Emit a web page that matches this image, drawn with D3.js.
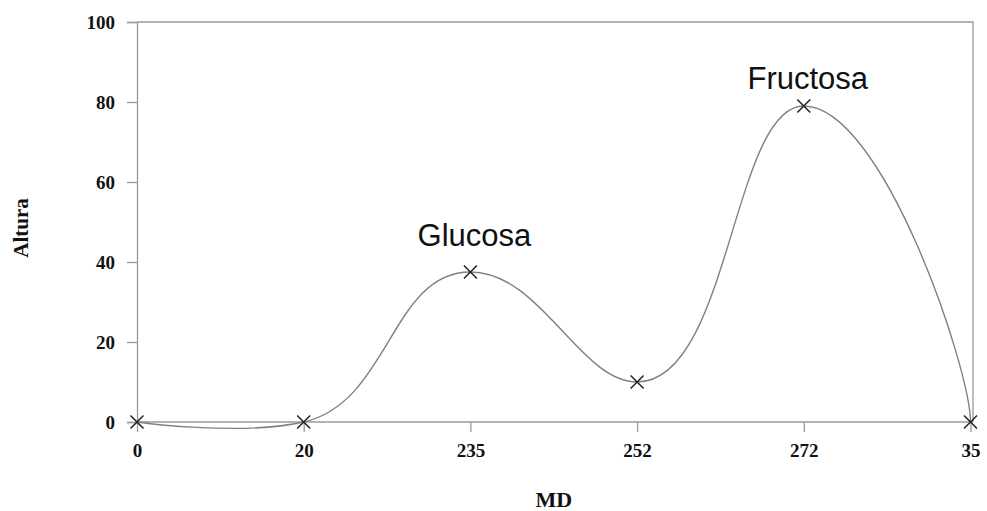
<!DOCTYPE html>
<html>
<head>
<meta charset="utf-8">
<script src="https://cdn.jsdelivr.net/npm/d3@7"></script>
<style>
  html, body { margin: 0; padding: 0; background: #fff; }
  svg { display: block; }
</style>
</head>
<body>
<svg id="chart" width="987" height="511"></svg>
<script>
// Sample fractions (MD) and measured peak heights
const categories = ["0", "20", "235", "252", "272", "35"];
const heights = [0, 0, 37.5, 10, 79, 0];
const yTicks = [0, 20, 40, 60, 80, 100];
const peakLabels = [
  { text: "Glucosa", index: 2, dy: -26 },
  { text: "Fructosa", index: 4, dy: -17 }
];

const svg = d3.select("#chart");
const plotLeft = 137, plotRight = 970.5, plotTop = 22, plotBottom = 422, frameRight = 973;

const x = d3.scalePoint().domain(categories).range([plotLeft, plotRight]);
const y = d3.scaleLinear().domain([0, 100]).range([plotBottom, plotTop]);

const serif = "'Liberation Serif', 'Times New Roman', serif";
const sans = "'Liberation Sans', Arial, Helvetica, sans-serif";
const frameColor = "#9a9a9a";

// Smooth Bezier spline. Inner tangents follow the neighbours (flat at peaks
// and valleys, halved next to a flat run); handle lengths are split in
// proportion to the adjoining chords. End handles point vertically toward
// the neighbouring level.
function chordSpline(tension) {
  return function(context) {
    let pts;
    return {
      areaStart() {}, areaEnd() {},
      lineStart() { pts = []; },
      point(px, py) { pts.push([+px, +py]); },
      lineEnd() {
        const n = pts.length;
        if (!n) return;
        context.moveTo(pts[0][0], pts[0][1]);
        if (n < 3) {
          for (let i = 1; i < n; i++) context.lineTo(pts[i][0], pts[i][1]);
          return;
        }
        const dist = (a, b) => Math.hypot(b[0] - a[0], b[1] - a[1]);
        const hin = new Array(n), hout = new Array(n);
        for (let i = 1; i < n - 1; i++) {
          const p0 = pts[i - 1], p1 = pts[i], p2 = pts[i + 1];
          const d0 = dist(p0, p1), d1 = dist(p1, p2);
          const dyL = p1[1] - p0[1], dyR = p2[1] - p1[1];
          const tx = p2[0] - p0[0];
          let ty = p2[1] - p0[1];
          if (dyL * dyR < 0) ty = 0;
          else if (dyL * dyR === 0) ty *= 0.5;
          const w0 = tension * d0 / (d0 + d1), w1 = tension * d1 / (d0 + d1);
          hin[i] = [p1[0] - w0 * tx, p1[1] - w0 * ty];
          hout[i] = [p1[0] + w1 * tx, p1[1] + w1 * ty];
        }
        hout[0] = [pts[0][0], pts[0][1] + (pts[1][1] - pts[0][1]) / 6];
        hin[n - 1] = [pts[n - 1][0], pts[n - 1][1] + (pts[n - 2][1] - pts[n - 1][1]) / 6];
        for (let i = 0; i < n - 1; i++) {
          context.bezierCurveTo(hout[i][0], hout[i][1], hin[i + 1][0], hin[i + 1][1], pts[i + 1][0], pts[i + 1][1]);
        }
      }
    };
  };
}

// plot frame (top and right edges)
svg.append("path")
  .attr("d", `M${plotLeft},${plotTop}H${frameRight}V${plotBottom}`)
  .attr("fill", "none").attr("stroke", frameColor).attr("stroke-width", 1.3);

// y axis
const yAxis = svg.append("g")
  .attr("transform", `translate(${plotLeft},0)`)
  .call(d3.axisLeft(y).tickValues(yTicks).tickSize(10).tickPadding(12).tickFormat(d3.format("d")));
yAxis.select(".domain").attr("stroke", frameColor).attr("stroke-width", 1.3);
yAxis.selectAll(".tick line").attr("stroke", frameColor).attr("stroke-width", 1.3);
yAxis.selectAll(".tick text")
  .attr("fill", "#111").style("font-family", serif).style("font-weight", "bold").style("font-size", "19px");

// x axis along zero
const xAxis = svg.append("g")
  .attr("transform", `translate(0,${y(0)})`)
  .call(d3.axisBottom(x).tickSize(10).tickPadding(12));
xAxis.select(".domain")
  .attr("d", `M${plotLeft},0H${frameRight}`)
  .attr("stroke", frameColor).attr("stroke-width", 1.3);
xAxis.selectAll(".tick line").attr("stroke", frameColor).attr("stroke-width", 1.3);
xAxis.selectAll(".tick text")
  .attr("fill", "#111").style("font-family", serif).style("font-weight", "bold").style("font-size", "19px");

// smoothed curve through the measurements
const line = d3.line()
  .x((d, i) => x(categories[i]))
  .y(d => y(d))
  .curve(chordSpline(0.45));

svg.append("path")
  .datum(heights)
  .attr("d", line)
  .attr("fill", "none")
  .attr("stroke", "#808080")
  .attr("stroke-width", 1.4);

// cross markers
const s = 6.5;
svg.append("g").selectAll("path")
  .data(heights)
  .join("path")
  .attr("d", (d, i) => {
    const cx = x(categories[i]), cy = y(d);
    return `M${cx - s},${cy - s}L${cx + s},${cy + s}M${cx - s},${cy + s}L${cx + s},${cy - s}`;
  })
  .attr("stroke", "#222").attr("stroke-width", 1.5).attr("fill", "none");

// peak annotations
svg.append("g").selectAll("text")
  .data(peakLabels)
  .join("text")
  .attr("x", d => x(categories[d.index]) + 4)
  .attr("y", d => y(heights[d.index]) + d.dy)
  .attr("text-anchor", "middle")
  .style("font-family", sans)
  .style("font-size", "31px")
  .attr("fill", "#111")
  .text(d => d.text);

// axis titles
svg.append("text")
  .attr("x", (plotLeft + plotRight) / 2)
  .attr("y", 507)
  .attr("text-anchor", "middle")
  .style("font-family", serif).style("font-weight", "bold").style("font-size", "22px")
  .attr("fill", "#111")
  .text("MD");

svg.append("text")
  .attr("transform", "translate(28,228) rotate(-90)")
  .attr("text-anchor", "middle")
  .style("font-family", serif).style("font-weight", "bold").style("font-size", "21px")
  .attr("fill", "#111")
  .text("Altura");
</script>
</body>
</html>
